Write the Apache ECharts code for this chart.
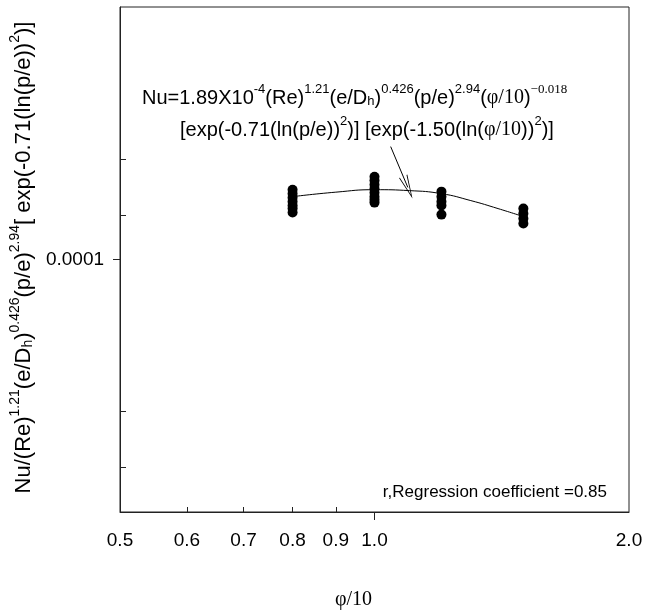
<!DOCTYPE html>
<html>
<head>
<meta charset="utf-8">
<script src="https://cdn.jsdelivr.net/npm/echarts@6/dist/echarts.min.js"></script>
<style>html,body{margin:0;padding:0;background:#fff}#c{width:647px;height:615px}</style>
</head>
<body>
<div id="c"></div>
<script>
// ---- data ----
const xTickLabels = [0.5, 0.6, 0.7, 0.8, 0.9, 1.0, 2.0];
const xMinorTicks = [0.6, 0.7, 0.8, 0.9];
const xMajorTicks = [1.0];
const yTickLabels = [0.0001];
const yMinorTicks = [1.5e-5, 2.5e-5, 1.5e-4, 2.5e-4];

const col08 = [1.890e-4, 1.823e-4, 1.758e-4, 1.695e-4, 1.635e-4, 1.591e-4, 1.534e-4];
const col10 = [2.128e-4, 2.053e-4, 1.979e-4, 1.908e-4, 1.840e-4, 1.774e-4, 1.726e-4, 1.680e-4];
const col12 = [1.857e-4, 1.774e-4, 1.695e-4, 1.635e-4, 1.506e-4];
const col15 = [1.591e-4, 1.520e-4, 1.452e-4, 1.388e-4];
const colX = [0.8, 1.0, 1.2, 1.5];

const fitX = [0.8, 0.9, 1.0, 1.1, 1.2, 1.3, 1.4, 1.5];
const fitY = [1.774e-4, 1.848e-4, 1.890e-4, 1.874e-4, 1.823e-4, 1.711e-4, 1.591e-4, 1.479e-4];

const arrowFrom = [1.045, 2.80e-4];
const arrowTo = [1.095, 1.93e-4];

// ---- build ----
const cols = [col08, col10, col12, col15];
const scatterData = [];
cols.forEach((c, i) => c.forEach(v => scatterData.push([colX[i], v])));
const fitData = fitX.map((x, i) => [x, fitY[i]]);

const SANS = '"Liberation Sans", Arial, sans-serif';
const SERIF = '"Liberation Serif", "Times New Roman", serif';
function makeRich(fs, sfs) {
  return {
    n: {fontFamily: SANS, fontSize: fs, color: '#000', lineHeight: fs + 5, verticalAlign: 'bottom'},
    s: {fontFamily: SERIF, fontSize: fs, color: '#000', lineHeight: fs + 5, verticalAlign: 'bottom'},
    sup: {fontFamily: SANS, fontSize: sfs, color: '#000', lineHeight: sfs, verticalAlign: 'top'},
    ssup: {fontFamily: SERIF, fontSize: sfs, color: '#000', lineHeight: sfs, verticalAlign: 'top'},
    sub: {fontFamily: SANS, fontSize: sfs, color: '#000', lineHeight: sfs, verticalAlign: 'bottom'}
  };
}
const richF = makeRich(20, 13);
const richY = makeRich(22, 14);

const line1 = '{n|Nu=1.89X10}{sup|-4}{n|(Re)}{sup|1.21}{n|(e/D}{sub|h}{n|)}{sup|0.426}{n|(p/e)}{sup|2.94}{n|(}{s|\u03c6/10}{n|)}{ssup|\u22120.018}';
const line2 = '{n|[exp(-0.71(ln(p/e))}{sup|2}{n|)] [exp(-1.50(ln(}{s|\u03c6/10}{n|))}{sup|2}{n|)]}';
const yTitle = '{n|Nu/(Re)}{sup|1.21}{n|(e/D}{sub|h}{n|)}{sup|0.426}{n|(p/e)}{sup|2.94}{n|[ exp(-0.71(ln(p/e))}{sup|2}{n|)]}';

const chart = echarts.init(document.getElementById('c'));
const axisCommon = {
  type: 'log', splitLine: {show: false}, minorTick: {show: false}
};
chart.setOption({
  animation: false,
  backgroundColor: '#fff',
  grid: {left: 117, right: 18, top: 7, bottom: 102, show: true, borderColor: '#222', borderWidth: 1},
  xAxis: [
    Object.assign({}, axisCommon, {
      min: 0.5, max: 2.0, logBase: 10, position: 'bottom',
      axisLine: {show: true, lineStyle: {color: '#222', width: 1}},
      axisTick: {show: true, inside: false, length: 8, customValues: xMajorTicks, lineStyle: {color: '#222'}},
      axisLabel: {show: true, customValues: xTickLabels, formatter: v => Number(v).toFixed(1),
        fontFamily: SANS, fontSize: 19, color: '#000', margin: 19},
      name: '\u03c6/10', nameLocation: 'middle', nameGap: 78,
      nameTextStyle: {fontFamily: SERIF, fontSize: 20, color: '#000', padding: [0, 42, 0, 0]}
    }),
    Object.assign({}, axisCommon, {
      min: 0.5, max: 2.0, logBase: 10, position: 'bottom',
      axisLine: {show: false},
      axisTick: {show: true, inside: true, length: 5, customValues: xMinorTicks, lineStyle: {color: '#222'}},
      axisLabel: {show: false}
    })
  ],
  yAxis: [
    Object.assign({}, axisCommon, {
      min: 1e-5, max: 1e-3, logBase: 10, position: 'left',
      axisLine: {show: true, lineStyle: {color: '#222', width: 1}},
      axisTick: {show: true, inside: false, length: 7, customValues: yTickLabels, lineStyle: {color: '#222'}},
      axisLabel: {show: true, customValues: yTickLabels, formatter: () => '0.0001',
        fontFamily: SANS, fontSize: 19, color: '#000', margin: 16},
      name: yTitle, nameLocation: 'middle', nameGap: 80,
      nameTextStyle: {rich: richY, padding: [0, 0, 0, 4]}
    }),
    Object.assign({}, axisCommon, {
      min: 1e-5, max: 1e-3, logBase: 10, position: 'left',
      axisLine: {show: false},
      axisTick: {show: true, inside: true, length: 6, customValues: yMinorTicks, lineStyle: {color: '#222'}},
      axisLabel: {show: false}
    })
  ],
  series: [
    {
      type: 'line', data: fitData, smooth: true, showSymbol: false, symbol: 'none',
      lineStyle: {color: '#000', width: 1}, z: 2,
      markLine: {
        silent: true, symbol: ['none', 'path://M5,0 L10,24 L9,24 L5,4 L1,24 L0,24 Z'],
        symbolSize: [9, 24],
        label: {show: false},
        lineStyle: {color: '#000', width: 1, type: 'solid'},
        data: [[{coord: arrowFrom}, {coord: arrowTo}]]
      }
    },
    {
      type: 'scatter', data: scatterData, symbol: 'circle', symbolSize: 10,
      itemStyle: {color: '#000', opacity: 1}, z: 3
    }
  ],
  graphic: [
    {type: 'text', left: 142, top: 83, style: {text: line1, rich: richF}},
    {type: 'text', left: 180, top: 115, style: {text: line2, rich: richF}},
    {type: 'text', right: 40, top: 484, style: {text: 'r,Regression coefficient =0.85', font: '17px "Liberation Sans", Arial, sans-serif', fill: '#000'}}
  ]
});
</script>
</body>
</html>
